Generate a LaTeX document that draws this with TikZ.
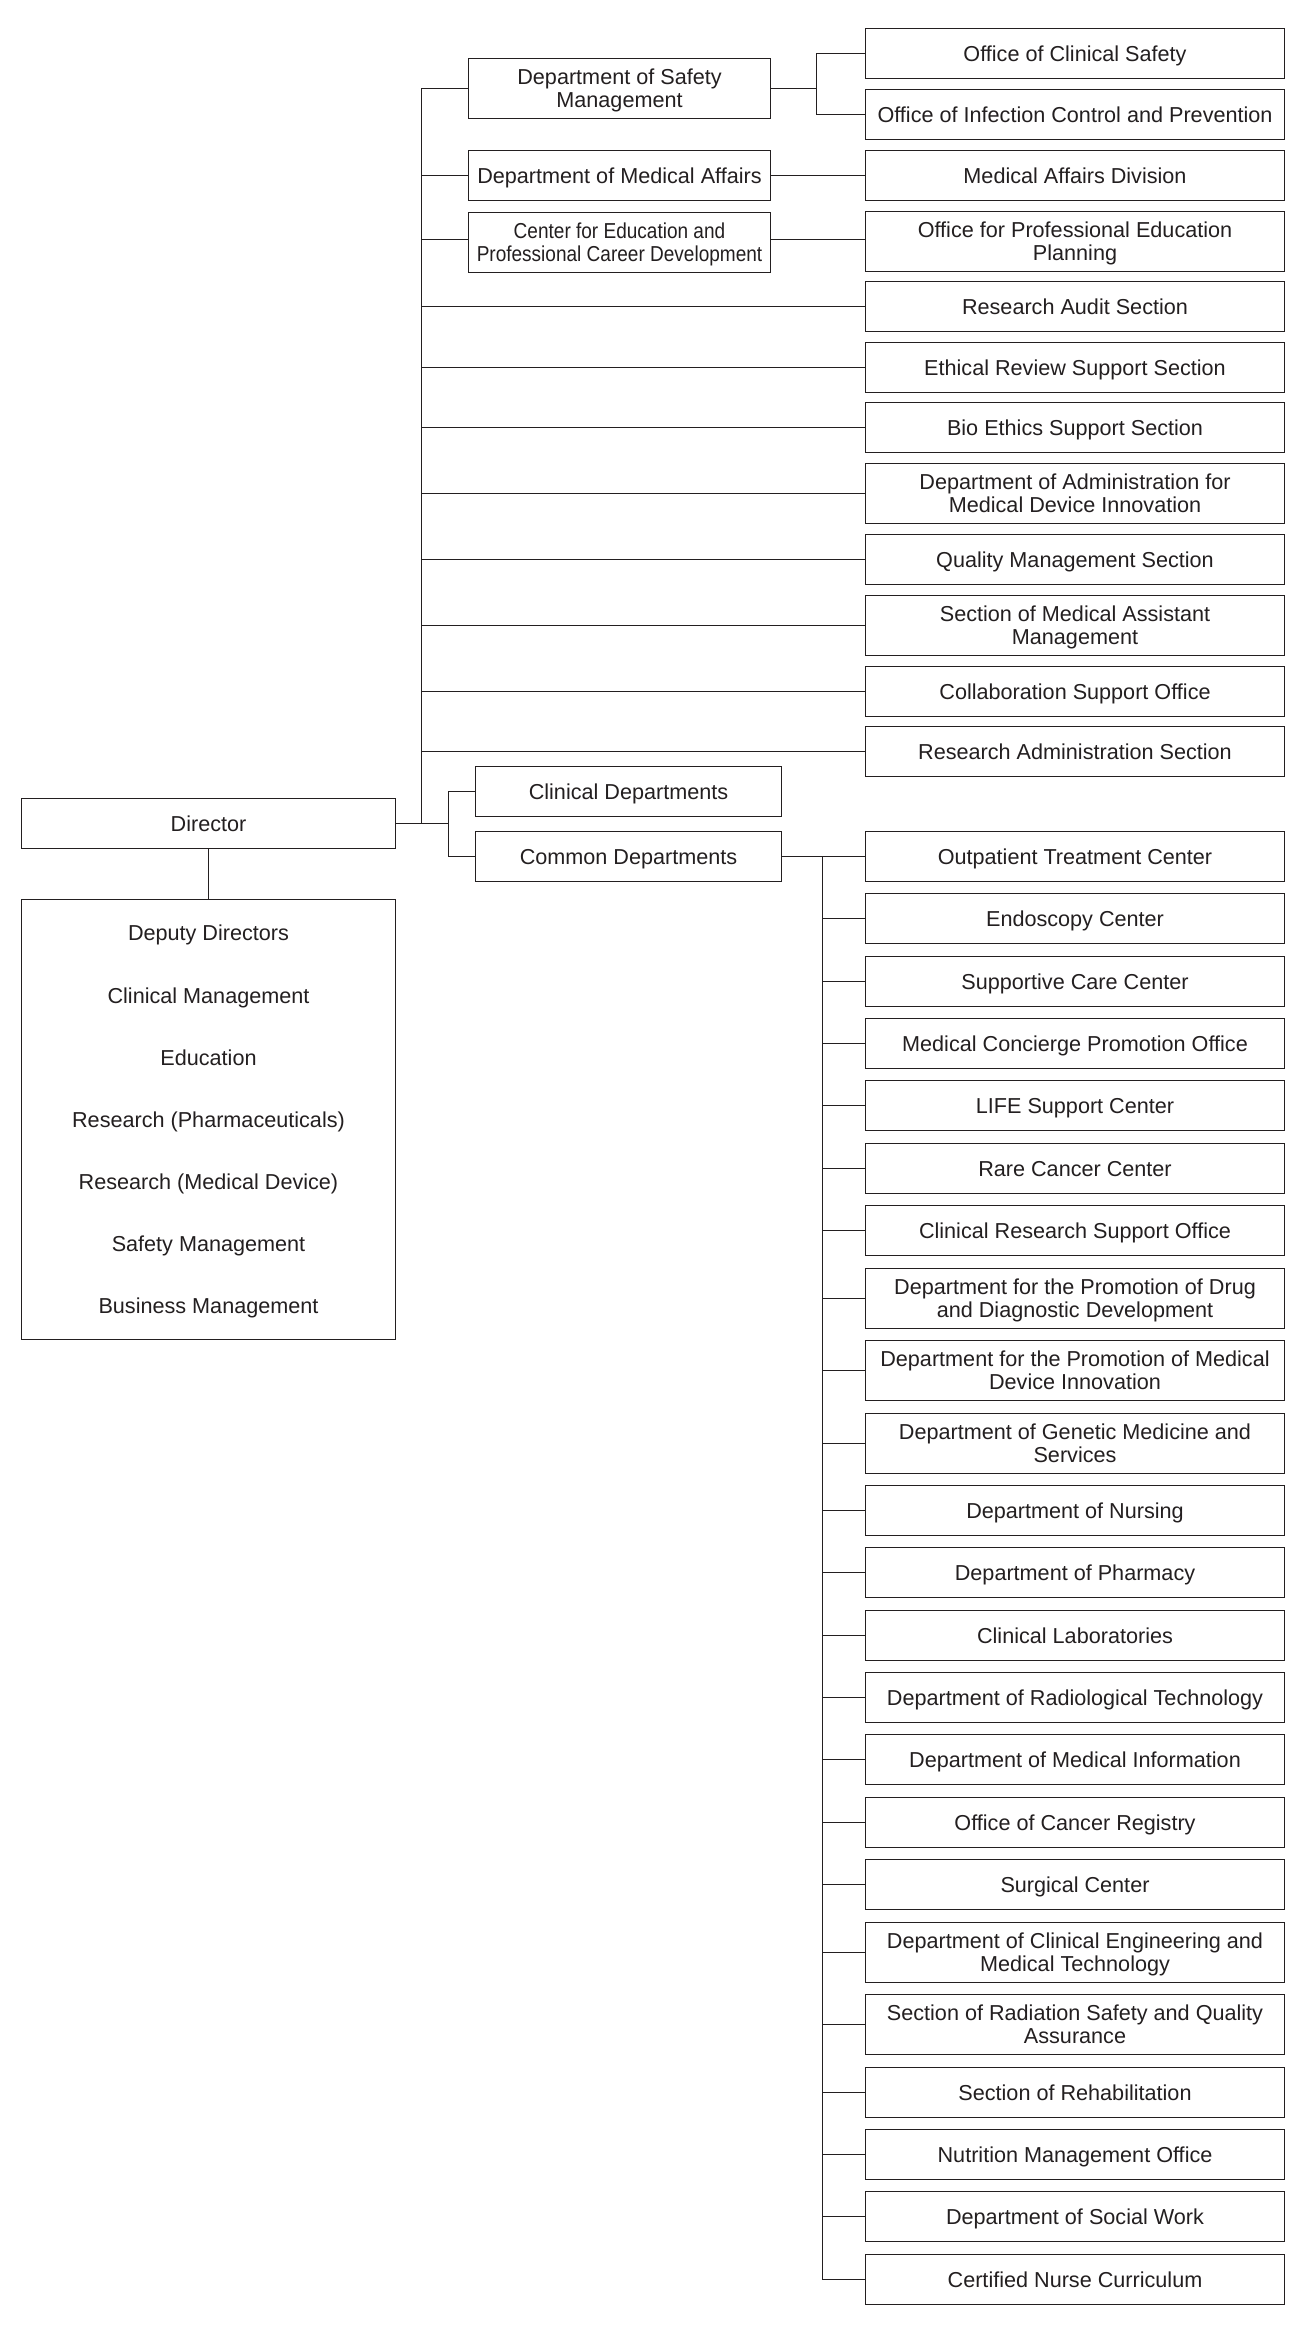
\documentclass[tikz,border=0pt]{standalone}
\usepackage{fontspec}
\setmainfont{Liberation Sans}
\newfontfamily\condfont[FakeStretch=0.88]{Liberation Sans}
\definecolor{ink}{HTML}{231F20}
\tikzset{
  boxbase/.style={draw=ink, text=ink, line width=1bp, inner sep=0pt, align=center,
    text depth=0pt, font=\fontsize{21.7}{23.3}\selectfont},
  rbox/.style={boxbase, minimum width=419bp, minimum height=50bp},
  rboxtwo/.style={boxbase, minimum width=419bp, minimum height=60bp},
  mbox/.style={boxbase, minimum width=302bp, minimum height=50bp},
  mboxtwo/.style={boxbase, minimum width=302bp, minimum height=60bp},
  cbox/.style={boxbase, minimum width=306bp, minimum height=50bp},
  link/.style={draw=ink, line width=1bp},
  thinlink/.style={draw=ink, line width=0.7bp}
}
\begin{document}
\begin{tikzpicture}[x=1bp,y=-1bp]
\useasboundingbox (0,0) rectangle (1312,2338);
\fill[white] (0,0) rectangle (1312,2338);

% left column
\node[boxbase, minimum width=374bp, minimum height=50bp] (dir) at (208.5,823.5) {Director};
\node[boxbase, minimum width=374bp, minimum height=440bp, font=\fontsize{21.7}{62.4}\selectfont] (dep) at (208.5,1119.5)
  {Deputy Directors\\Clinical Management\\Education\\Research (Pharmaceuticals)\\Research (Medical Device)\\Safety Management\\Business Management};

% middle column
\node[mboxtwo] (dsm) at (619.5,88.5) {Department of Safety\\Management};
\node[mbox] (dma) at (619.5,175.5) {Department of Medical Affairs};
\node[mboxtwo, font=\condfont\fontsize{21.7}{23.3}\selectfont] (ced) at (619.5,242.5) {Center for Education and\\Professional Career Development};
\node[cbox] (cld) at (628.5,791.5) {Clinical Departments};
\node[cbox] (com) at (628.5,856.5) {Common Departments};

% right column, upper
\node[rbox] (ocs) at (1075,53.5) {Office of Clinical Safety};
\node[rbox] (oic) at (1075,114.5) {Office of Infection Control and Prevention};
\node[rbox] (mad) at (1075,175.5) {Medical Affairs Division};
\node[rboxtwo] (ope) at (1075,241.5) {Office for Professional Education\\Planning};
\node[rbox] (ras) at (1075,306.5) {Research Audit Section};
\node[rbox] (ers) at (1075,367.5) {Ethical Review Support Section};
\node[rbox] (bes) at (1075,427.5) {Bio Ethics Support Section};
\node[rboxtwo] (dam) at (1075,493.5) {Department of Administration for\\Medical Device Innovation};
\node[rbox] (qms) at (1075,559.5) {Quality Management Section};
\node[rboxtwo] (sma) at (1075,625.5) {Section of Medical Assistant\\Management};
\node[rbox] (cso) at (1075,691.5) {Collaboration Support Office};
\node[rbox] (rad) at (1075,751.5) {Research Administration Section};

% right column, common departments
\node[rbox] (opt) at (1075,856.5) {Outpatient Treatment Center};
\node[rbox] (endo) at (1075,918.5) {Endoscopy Center};
\node[rbox] (sup) at (1075,981.5) {Supportive Care Center};
\node[rbox] (mcp) at (1075,1043.5) {Medical Concierge Promotion Office};
\node[rbox] (life) at (1075,1105.5) {LIFE Support Center};
\node[rbox] (rcc) at (1075,1168.5) {Rare Cancer Center};
\node[rbox] (crso) at (1075,1230.5) {Clinical Research Support Office};
\node[rboxtwo] (drug) at (1075,1298.5) {Department for the Promotion of Drug\\and Diagnostic Development};
\node[rboxtwo] (mdev) at (1075,1370.5) {Department for the Promotion of Medical\\Device Innovation};
\node[rboxtwo] (gen) at (1075,1443.5) {Department of Genetic Medicine and\\Services};
\node[rbox] (nur) at (1075,1510.5) {Department of Nursing};
\node[rbox] (pha) at (1075,1572.5) {Department of Pharmacy};
\node[rbox] (lab) at (1075,1635.5) {Clinical Laboratories};
\node[rbox] (radt) at (1075,1697.5) {Department of Radiological Technology};
\node[rbox] (minf) at (1075,1759.5) {Department of Medical Information};
\node[rbox] (creg) at (1075,1822.5) {Office of Cancer Registry};
\node[rbox] (surg) at (1075,1884.5) {Surgical Center};
\node[rboxtwo] (ceng) at (1075,1952.5) {Department of Clinical Engineering and\\Medical Technology};
\node[rboxtwo] (rsaf) at (1075,2024.5) {Section of Radiation Safety and Quality\\Assurance};
\node[rbox] (reh) at (1075,2092.5) {Section of Rehabilitation};
\node[rbox] (nut) at (1075,2154.5) {Nutrition Management Office};
\node[rbox] (soc) at (1075,2216.5) {Department of Social Work};
\node[rbox] (cnc) at (1075,2279.5) {Certified Nurse Curriculum};

% junction coordinates
\coordinate (tj) at (421.5,823.5);
\coordinate (dj) at (448.5,823.5);
\coordinate (ej) at (816.5,88.5);
\coordinate (cj) at (822.5,856.5);

% director links
\draw[link] (dir.south) -- (dep.north);
\draw[link] (dir.east) -- (dj);
\draw[link] (dsm.west) -| (tj);
\draw[thinlink] (cld.west) -| (dj) |- (com.west);

% upper branches
\draw[link] (dma.west) -- (dma.west -| tj);
\draw[link] ([yshift=3bp]ced.west) -- ([yshift=3bp]ced.west -| tj);
\draw[link] (dsm.east) -- (ej);
\draw[link] (ocs.west) -| (ej) |- (oic.west);
\draw[link] (dma.east) -- (dma.east -| mad.west);
\draw[link] ([yshift=3bp]ced.east) -- ([yshift=3bp]ced.east -| ope.west);
\foreach \n in {ras,ers,bes,dam,qms,sma,cso,rad}
  \draw[link] (\n.west) -- (\n.west -| tj);

% common departments
\draw[link] (com.east) -- (com.east -| opt.west);
\draw[link] (cj) |- (cnc.west);
\foreach \n in {endo,sup,mcp,life,rcc,crso,drug,mdev,gen,nur,pha,lab,radt,minf,creg,surg,ceng,rsaf,reh,nut,soc}
  \draw[link] (\n.west) -- (\n.west -| cj);
\end{tikzpicture}
\end{document}
